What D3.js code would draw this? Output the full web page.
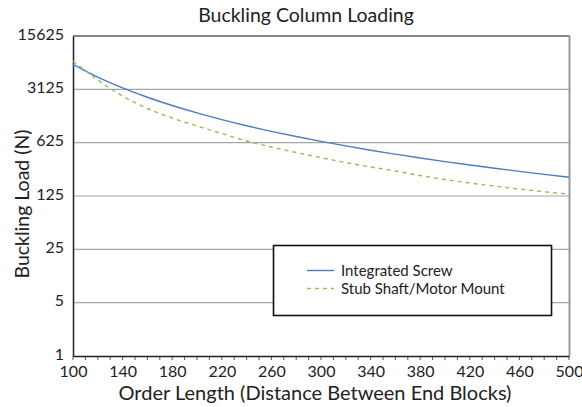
<!DOCTYPE html>
<html>
<head>
<meta charset="utf-8">
<script src="https://cdn.jsdelivr.net/npm/d3@7"></script>
<style>
  html, body { margin: 0; padding: 0; background: #fff; }
  svg { display: block; font-family: Lato, "Open Sans", sans-serif; }
</style>
</head>
<body>
<svg id="chart" width="582" height="407"></svg>
<script>
const lengths = [100,120,140,160,180,200,220,240,260,280,300,320,340,360,380,400,420,440,460,480,500];
const integratedScrew = [6660,4526,3265,2460,1917,1534,1253,1042,880,752,650,567,498,442,394,353,318,289,263,240,220];
const stubShaft = [7354,4143,2555,1753,1317,1034,824,657,548,464,397,343,300,266,232,206,185,169,154,142,132];
const xTicks = [100,140,180,220,260,300,340,380,420,460,500];
const yTicks = [1,5,25,125,625,3125,15625];
const seriesNames = ["Integrated Screw", "Stub Shaft/Motor Mount"];
const seriesColors = ["#4a7ebf", "#9bbb59"];

const svg = d3.select("#chart");
const m = {left: 73, right: 569, top: 36, bottom: 356};

const x = d3.scaleLinear().domain([100, 500]).range([m.left, m.right]);
const y = d3.scaleLog().base(5).domain([1, 15625]).range([m.bottom, m.top]);

// gridlines
svg.append("g").selectAll("line").data(yTicks.slice(1)).join("line")
  .attr("x1", m.left).attr("x2", m.right)
  .attr("y1", d => y(d)).attr("y2", d => y(d))
  .attr("stroke", "#a6a6a6").attr("stroke-width", 1.2);

// frame top & right
svg.append("line").attr("x1", m.left).attr("x2", m.right + 1).attr("y1", m.top).attr("y2", m.top)
  .attr("stroke", "#3a3a3a").attr("stroke-width", 1.2);
svg.append("line").attr("x1", m.right + 0.5).attr("x2", m.right + 0.5).attr("y1", m.top).attr("y2", m.bottom)
  .attr("stroke", "#999").attr("stroke-width", 2);

// x axis with minor ticks
const xMinor = d3.range(100, 501, 10);
svg.append("g").selectAll("line").data(xMinor).join("line")
  .attr("x1", d => x(d)).attr("x2", d => x(d))
  .attr("y1", m.bottom).attr("y2", m.bottom + 4)
  .attr("stroke", "#555").attr("stroke-width", 1);

const xAxis = svg.append("g").attr("transform", `translate(0,${m.bottom})`)
  .call(d3.axisBottom(x).tickValues(xTicks).tickSize(0).tickPadding(10).tickFormat(d3.format("d")));
xAxis.select(".domain").attr("stroke", "#222").attr("stroke-width", 1.5);
xAxis.selectAll("text").attr("font-size", 16).attr("fill", "#222").style("font-family", "Lato, sans-serif");

const yAxis = svg.append("g").attr("transform", `translate(${m.left},0)`)
  .call(d3.axisLeft(y).tickValues(yTicks).tickSize(0).tickPadding(9).tickFormat(d3.format("d")));
yAxis.select(".domain").attr("stroke", "#222").attr("stroke-width", 1.5);
yAxis.selectAll("text").attr("font-size", 16).attr("fill", "#222").attr("dy", "0.2em").style("font-family", "Lato, sans-serif");

// lines
const line = d3.line().x((d, i) => x(lengths[i])).y(d => y(d)).curve(d3.curveMonotoneX);
svg.append("path").datum(integratedScrew).attr("d", line)
  .attr("fill", "none").attr("stroke", seriesColors[0]).attr("stroke-width", 1.4);
svg.append("path").datum(stubShaft).attr("d", line)
  .attr("fill", "none").attr("stroke", seriesColors[1]).attr("stroke-width", 1.4)
  .attr("stroke-dasharray", "4,4");

// title
svg.append("text").attr("x", 306).attr("y", 22).attr("text-anchor", "middle")
  .attr("font-size", 19.5).attr("fill", "#222").text("Buckling Column Loading");

// axis titles
svg.append("text").attr("x", 315).attr("y", 400).attr("text-anchor", "middle")
  .attr("font-size", 20).attr("fill", "#222").text("Order Length (Distance Between End Blocks)");
svg.append("text").attr("transform", "translate(28.5,204) rotate(-90)").attr("text-anchor", "middle")
  .attr("font-size", 19.5).attr("fill", "#222").text("Buckling Load (N)");

// legend
const lg = svg.append("g");
lg.append("rect").attr("x", 273.5).attr("y", 245.5).attr("width", 278).attr("height", 70)
  .attr("fill", "#fff").attr("stroke", "#111").attr("stroke-width", 1.6);
seriesNames.forEach((name, i) => {
  const yy = 270.5 + i * 18;
  lg.append("line").attr("x1", 307).attr("x2", 334).attr("y1", yy).attr("y2", yy)
    .attr("stroke", seriesColors[i]).attr("stroke-width", 1.4)
    .attr("stroke-dasharray", i === 1 ? "4,4" : null);
  lg.append("text").attr("x", 341).attr("y", yy + 5.2).attr("font-size", 15).attr("fill", "#222").text(name);
});
</script>
</body>
</html>
